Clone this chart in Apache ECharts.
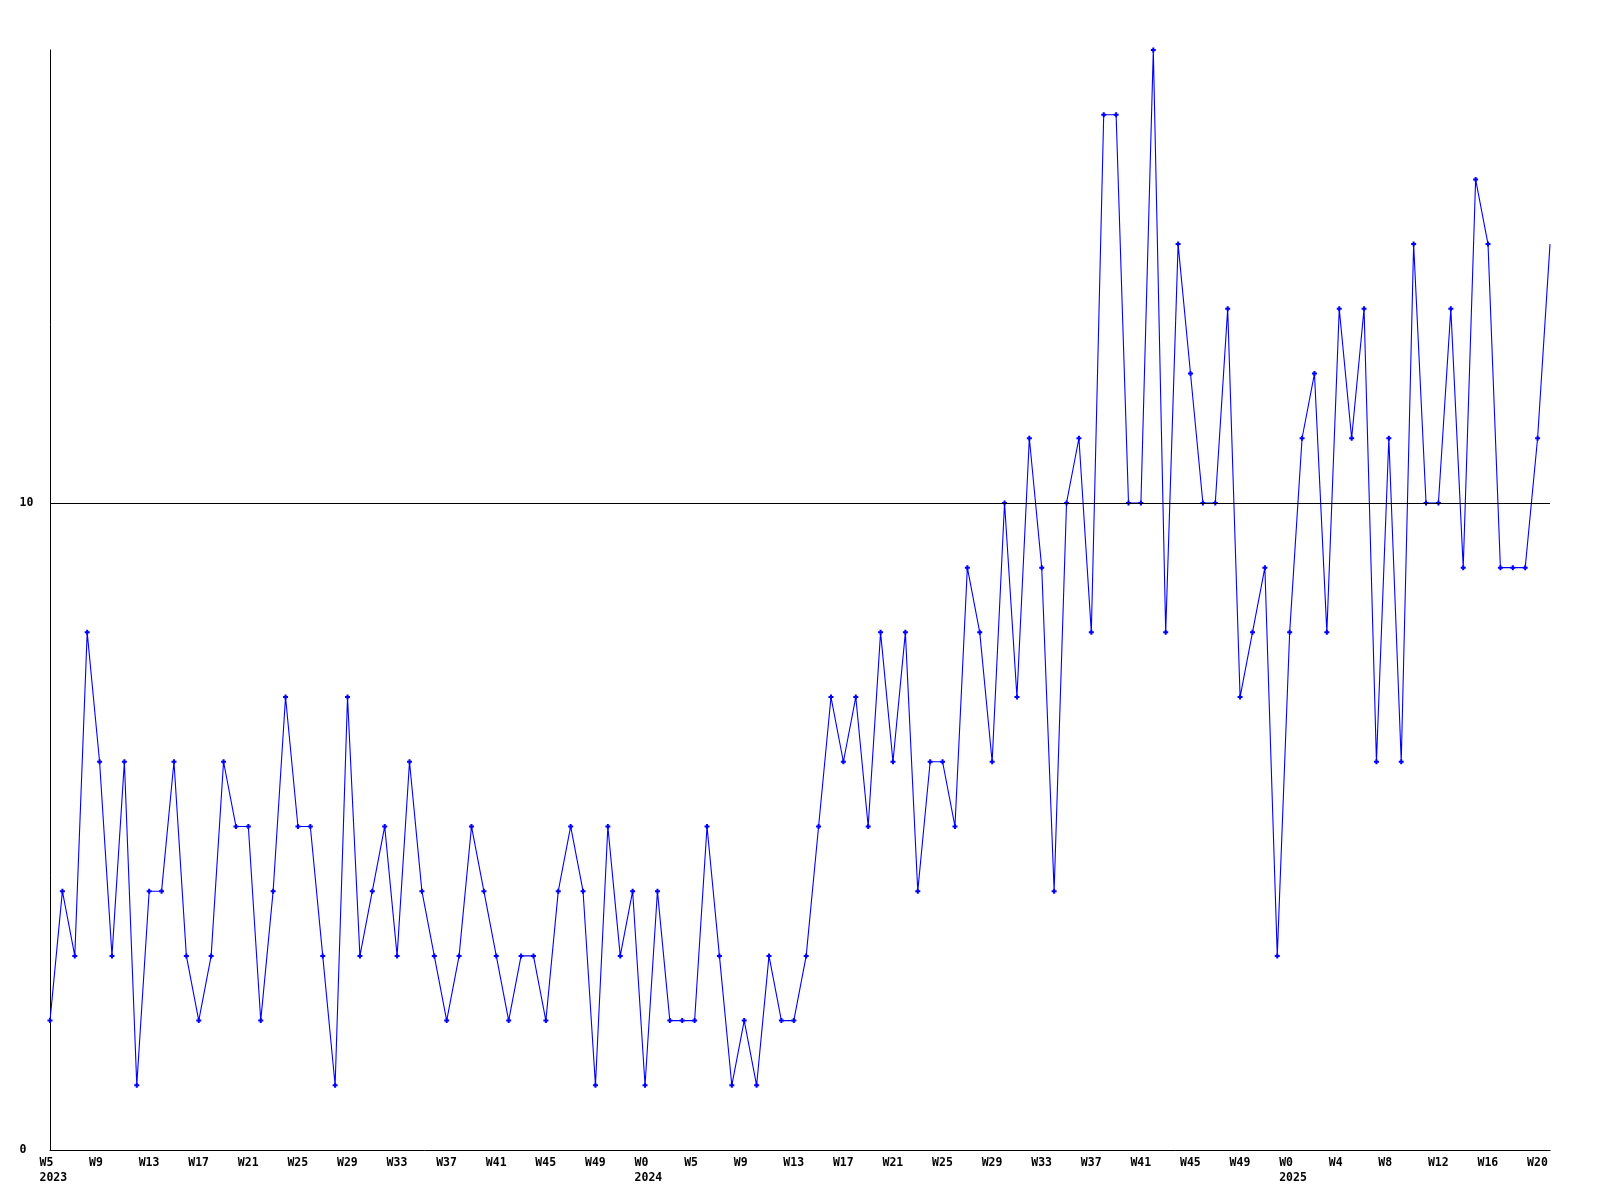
<!DOCTYPE html>
<html>
<head>
<meta charset="utf-8">
<script src="https://cdn.jsdelivr.net/npm/echarts@6/dist/echarts.min.js"></script>
<style>
html,body{margin:0;padding:0;background:#fff;}
#chart{width:1600px;height:1200px;}
</style>
</head>
<body>
<div id="chart"></div>
<script>
// Week numbers per year (tick labels)
const weeks2023 = [5,6,7,8,9,10,11,12,13,14,15,16,17,18,19,20,21,22,23,24,25,26,27,28,29,30,31,32,33,34,35,36,37,38,39,40,41,42,43,44,45,46,47,48,49,50,51,52];
const weeks2024 = [0,2,3,4,5,6,7,8,9,10,11,12,13,14,15,16,17,18,19,20,21,22,23,24,25,26,27,28,29,30,31,32,33,34,35,36,37,38,39,40,41,42,43,44,45,46,47,48,49,50,51,52];
const weeks2025 = [0,1,2,3,4,5,6,7,8,9,10,11,12,13,14,15,16,17,18,19,20,21];

// Weekly values
const values = [
  2,4,3,8,6,3,6,1,4,4,6,3,2,3,6,5,5,2,4,7,5,5,3,1,7,3,4,5,3,6,4,
  3,2,3,5,4,3,2,3,3,2,4,5,4,1,5,3,4,1,4,2,2,2,5,3,1,2,1,3,2,2,3,5,
  7,6,7,5,8,6,8,4,6,6,5,9,8,6,10,7,11,9,4,10,11,8,16,16,10,10,17,8,14,12,
  10,10,13,7,8,9,3,8,11,12,8,13,11,13,6,11,6,14,10,10,13,9,15,14,9,9,9,11,14
];

const yTicks = [0, 10];
const refLine = 10;

const categories = []
  .concat(weeks2023.map(w => '2023|W' + w))
  .concat(weeks2024.map(w => '2024|W' + w))
  .concat(weeks2025.map(w => '2025|W' + w));

const seriesData = values.map((v, i) => i === values.length - 1 ? {value: v, symbol: 'none'} : v);

const FONT = 'DejaVu Sans Mono';
const chart = echarts.init(document.getElementById('chart'), null, {renderer: 'canvas'});
chart.setOption({
  animation: false,
  backgroundColor: '#ffffff',
  grid: {left: 50, right: 50, top: 50, bottom: 50, containLabel: false},
  xAxis: {
    type: 'category',
    data: categories,
    boundaryGap: false,
    axisLine: {show: true, lineStyle: {color: '#000', width: 1}},
    axisTick: {show: false},
    splitLine: {show: false},
    axisLabel: {
      interval: 3,
      margin: 5,
      align: 'center',
      formatter: function (val, idx) {
        const parts = val.split('|');
        const prev = idx > 0 ? categories[idx - 1].split('|')[0] : null;
        let s = '{a|' + parts[1] + '}';
        if (prev !== parts[0]) s += '\n{a|' + parts[0] + '}';
        return s;
      },
      rich: {
        a: {width: 21, align: 'left', fontFamily: FONT, fontWeight: 'bold', fontSize: 11.5, color: '#000', lineHeight: 15.5}
      }
    }
  },
  yAxis: {
    type: 'value',
    min: 0,
    max: 17,
    interval: 10,
    axisLine: {show: true, lineStyle: {color: '#000', width: 1}},
    axisTick: {show: false},
    splitLine: {show: false},
    axisLabel: {
      showMaxLabel: false,
      align: 'left',
      margin: 30.5,
      fontFamily: FONT,
      fontWeight: 'bold',
      fontSize: 11.5,
      color: '#000',
      formatter: function (v) { return yTicks.indexOf(v) >= 0 ? String(v) : ''; }
    }
  },
  series: [{
    type: 'line',
    data: seriesData,
    symbol: 'path://M1.5,0H3.5V1.5H5V3.5H3.5V5H1.5V3.5H0V1.5H1.5Z',
    symbolSize: 5,
    showAllSymbol: true,
    lineStyle: {color: '#0000ff', width: 1.1},
    itemStyle: {color: '#0000ff'},
    markLine: {
      silent: true,
      symbol: 'none',
      label: {show: false},
      lineStyle: {color: '#000', width: 1, type: 'solid'},
      data: [{yAxis: refLine}]
    },
    z: 3
  }]
});
</script>
</body>
</html>
